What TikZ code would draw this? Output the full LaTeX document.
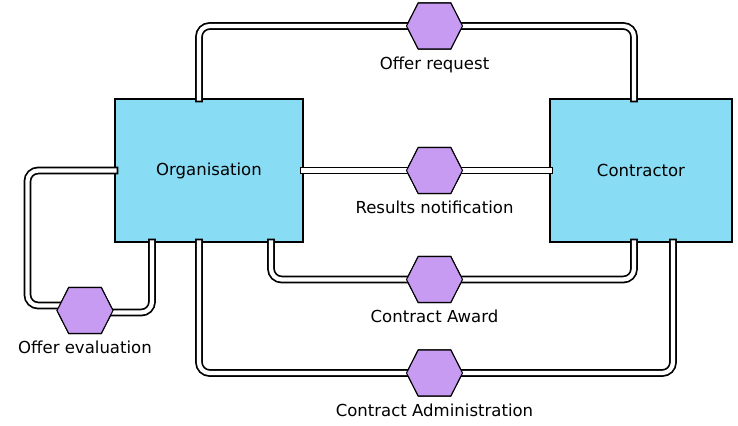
\documentclass[tikz,border=0pt]{standalone}
\usepackage{fontspec}
\setmainfont{DejaVu Sans}
\usepackage{tikz}
\usetikzlibrary{positioning,calc,shapes.symbols}
\definecolor{partyBlue}{RGB}{136,220,244}
\definecolor{stepPurple}{RGB}{199,155,242}
\tikzset{
  partyBox/.style={
    rectangle,
    draw=black,
    line width=0.8pt,
    fill=partyBlue,
    minimum height=107.25pt,
    align=center
  },
  stepHex/.style={
    signal,
    signal to=east and west,
    signal pointer angle=126,
    draw=black,
    line width=0.8pt,
    fill=stepPurple,
    minimum width=42pt,
    minimum height=34.5pt,
    inner sep=0pt
  },
  stepLabel/.style={
    inner sep=0pt
  },
  pipeLine/.style={
    draw=black,
    line width=1.3pt,
    double=white,
    double distance=3.2pt,
    line cap=rect,
    rounded corners=8pt
  }
}

\begin{document}
\begin{tikzpicture}[x=0.75pt,y=-0.75pt,font=\fontsize{12.4pt}{14pt}\selectfont]
        \useasboundingbox (0,0) rectangle (738,425);

        \node[partyBox, minimum width=141pt] (org) at (209,170.5) {Organisation};
        \node[partyBox, minimum width=136.5pt] (con) at (641,170.5) {Contractor};

        \node[stepHex] (request) at (434.5,26) {};
        \node[stepHex] (results) at (434.5,170.5) {};
        \node[stepHex] (award) at (434.5,279.5) {};
        \node[stepHex] (admin) at (434.5,373) {};
        \node[stepHex] (evaluation) at (85,310.5) {};

        % pipes between the parties and the steps
        \draw[pipeLine] ($(org.north)+(-10,0)$) |- (request.west);
        \draw[pipeLine] (request.east) -| ($(con.north)+(-7,0)$);
        \draw[pipeLine] (org.east) -- (results.west);
        \draw[pipeLine] (results.east) -- (con.west);
        \draw[pipeLine] ($(org.south)+(62,0)$) |- (award.west);
        \draw[pipeLine] (award.east) -| ($(con.south)+(-7,0)$);
        \draw[pipeLine] ($(org.south)+(-10,0)$) |- (admin.west);
        \draw[pipeLine] (admin.east) -| ($(con.south)+(32,0)$);
        \draw[pipeLine] (org.west) -- ++(-87,0) |- ($(evaluation.west)+(4,-5)$);
        \draw[pipeLine] ($(evaluation.east)+(-2,2)$) -| ($(org.south)+(-57,0)$);

        % hexagons again, over the pipe ends
        \foreach \step in {request,results,award,admin,evaluation}
          \node[stepHex] at (\step) {};

        \node[stepLabel, below=5pt of request] {Offer request};
        \node[stepLabel, below=5pt of results] {Results notification};
        \node[stepLabel, below=5pt of award] {Contract Award};
        \node[stepLabel, below=5pt of admin] {Contract Administration};
        \node[stepLabel, below=5pt of evaluation] {Offer evaluation};
    \end{tikzpicture}
\end{document}
